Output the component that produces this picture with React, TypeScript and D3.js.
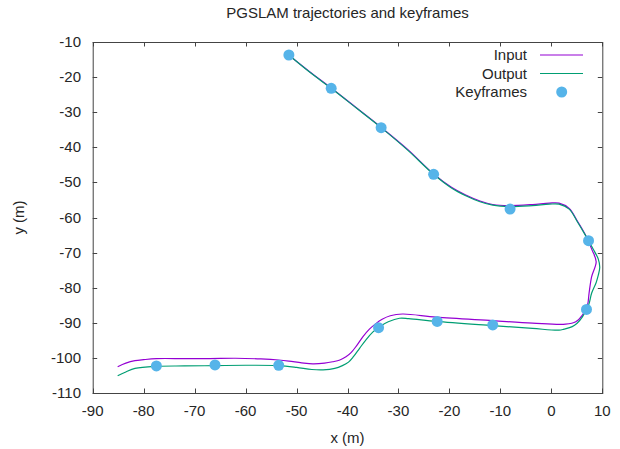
import React, { useEffect, useRef } from 'react';
import * as d3 from 'd3';

// trajectories, in metres
const inputX = [-51.5, -47.5, -43.2, -38.2, -33.4, -28.2, -23.1, -19.6, -16.8, -14.0, -11.5, -8.3, -3.7, -0.4, 1.5, 3.5, 5.1, 6.7, 8.0, 8.8, 7.9, 7.4, 7.1, 6.1, 4.8, 2.8, -3.7, -11.5, -22.6, -29.2, -31.6, -33.2, -34.5, -35.7, -37.0, -38.2, -39.3, -40.3, -41.5, -42.9, -44.5, -46.8, -49.0, -51.5, -53.5, -57.0, -62.0, -67.0, -72.0, -77.5, -80.0, -81.7, -83.5, -85.1];
const inputY = [-13.8, -18.4, -23.1, -28.8, -34.3, -40.6, -47.6, -51.4, -53.6, -55.3, -56.3, -56.6, -56.3, -55.9, -55.9, -57.4, -61.0, -65.0, -69.3, -72.6, -76.9, -81.6, -84.9, -87.8, -89.7, -90.4, -90.1, -89.4, -88.4, -87.5, -88.0, -89.0, -90.3, -91.8, -94.0, -96.5, -98.5, -99.7, -100.6, -101.1, -101.5, -101.7, -101.4, -100.9, -100.6, -100.3, -100.1, -100.2, -100.2, -100.2, -100.5, -100.8, -101.5, -102.5];

const outputX = [-51.5, -47.5, -43.2, -38.2, -33.4, -28.2, -23.1, -19.6, -16.8, -14.0, -11.5, -8.3, -3.7, -0.4, 1.5, 3.5, 5.1, 6.7, 8.2, 9.2, 9.5, 9.2, 8.8, 7.9, 7.3, 6.1, 5.0, 4.1, 2.5, 1.5, -3.7, -11.5, -22.6, -28.0, -29.8, -32.0, -33.7, -35.0, -36.3, -37.6, -38.8, -39.8, -41.0, -42.5, -44.8, -47.0, -50.0, -53.5, -60.0, -66.0, -72.0, -77.5, -81.7, -83.5, -85.1];
const outputY = [-13.7, -18.5, -23.2, -28.9, -34.4, -40.8, -47.7, -51.6, -53.8, -55.5, -56.5, -56.9, -56.6, -56.2, -56.2, -57.6, -61.2, -65.1, -69.0, -71.8, -74.2, -76.5, -78.5, -81.6, -85.0, -88.3, -90.2, -91.1, -91.8, -92.1, -91.6, -90.8, -89.6, -88.8, -88.7, -89.7, -91.1, -92.6, -94.7, -97.2, -99.6, -101.2, -102.2, -103.0, -103.4, -103.3, -102.7, -102.2, -102.1, -102.2, -102.3, -102.4, -103.0, -104.0, -105.1];

const keyX = [-51.5, -43.2, -33.4, -23.1, -8.1, 7.3, 6.9, -11.5, -22.4, -33.9, -53.5, -66.0, -77.5];
const keyY = [-13.7, -23.2, -34.4, -47.7, -57.6, -66.6, -86.2, -90.6, -89.6, -91.4, -102.1, -102.0, -102.3];

const xTicks = [-90, -80, -70, -60, -50, -40, -30, -20, -10, 0, 10];
const yTicks = [-10, -20, -30, -40, -50, -60, -70, -80, -90, -100, -110];

const seriesNames = ['Input', 'Output', 'Keyframes'];
const colors = ['#9400d3', '#009e73', '#56b4e9'];

const W = 620;
const H = 449;
const font = '"Liberation Sans", Arial, sans-serif';
const textColor = '#262626';

const App = () => {
  const svgRef = useRef<SVGSVGElement>(null);

  useEffect(() => {
    const svg = d3.select(svgRef.current);
    svg.selectAll('*').remove();

    const x = d3.scaleLinear().domain([-90, 10]).range([92.7, 602.3]);
    const y = d3.scaleLinear().domain([-10, -110]).range([42, 393]);
    const [x0, x1] = x.range();
    const [y0, y1] = y.range();

    svg.append('text')
      .attr('x', (x0 + x1) / 2)
      .attr('y', 18)
      .attr('text-anchor', 'middle')
      .style('font-family', font)
      .style('font-size', '15px')
      .style('fill', textColor)
      .text('PGSLAM trajectories and keyframes');

    const tickLen = 4.5;
    const grid = svg.append('g').attr('stroke', '#444').attr('stroke-width', 1);
    xTicks.forEach(t => {
      const px = Math.round(x(t)) + 0.5;
      grid.append('line').attr('x1', px).attr('x2', px).attr('y1', y1).attr('y2', y1 - tickLen);
      grid.append('line').attr('x1', px).attr('x2', px).attr('y1', y0).attr('y2', y0 + tickLen);
    });
    yTicks.forEach(t => {
      const py = Math.round(y(t)) + 0.5;
      grid.append('line').attr('x1', x0).attr('x2', x0 + tickLen).attr('y1', py).attr('y2', py);
      grid.append('line').attr('x1', x1).attr('x2', x1 - tickLen).attr('y1', py).attr('y2', py);
    });

    svg.append('g')
      .selectAll('text')
      .data(xTicks)
      .join('text')
      .attr('x', d => x(d))
      .attr('y', 416)
      .attr('text-anchor', 'middle')
      .style('font-family', font)
      .style('font-size', '15px')
      .style('fill', textColor)
      .text(d => d);

    svg.append('g')
      .selectAll('text')
      .data(yTicks)
      .join('text')
      .attr('x', 81)
      .attr('y', d => y(d) + 5)
      .attr('text-anchor', 'end')
      .style('font-family', font)
      .style('font-size', '15px')
      .style('fill', textColor)
      .text(d => d);

    svg.append('text')
      .attr('x', (x0 + x1) / 2)
      .attr('y', 443)
      .attr('text-anchor', 'middle')
      .style('font-family', font)
      .style('font-size', '15px')
      .style('fill', textColor)
      .text('x (m)');

    svg.append('text')
      .attr('transform', `translate(24, ${(y0 + y1) / 2}) rotate(-90)`)
      .attr('text-anchor', 'middle')
      .style('font-family', font)
      .style('font-size', '15px')
      .style('fill', textColor)
      .text('y (m)');

    const line = d3.line<number[]>()
      .x(p => x(p[0]))
      .y(p => y(p[1]))
      .curve(d3.curveCatmullRom.alpha(0.5));

    const inputPts = inputX.map((v, i) => [v, inputY[i]]);
    const outputPts = outputX.map((v, i) => [v, outputY[i]]);

    svg.append('path')
      .datum(inputPts)
      .attr('d', line)
      .attr('fill', 'none')
      .attr('stroke', colors[0])
      .attr('stroke-width', 1.2);

    svg.append('path')
      .datum(outputPts)
      .attr('d', line)
      .attr('fill', 'none')
      .attr('stroke', colors[1])
      .attr('stroke-width', 1.2);

    svg.append('g')
      .selectAll('circle')
      .data(keyX.map((v, i) => [v, keyY[i]]))
      .join('circle')
      .attr('cx', d => x(d[0]))
      .attr('cy', d => y(d[1]))
      .attr('r', 5.5)
      .attr('fill', colors[2]);

    // legend, top right
    const legend = svg.append('g');
    const rowY = [55, 73.5, 92];
    seriesNames.forEach((name, i) => {
      legend.append('text')
        .attr('x', 527)
        .attr('y', rowY[i] + 5)
        .attr('text-anchor', 'end')
        .style('font-family', font)
        .style('font-size', '15px')
        .style('fill', textColor)
        .text(name);
      if (i < 2) {
        legend.append('line')
          .attr('x1', 540).attr('x2', 583)
          .attr('y1', rowY[i]).attr('y2', rowY[i])
          .attr('stroke', colors[i])
          .attr('stroke-width', 1.2);
      } else {
        legend.append('circle')
          .attr('cx', 561.7)
          .attr('cy', rowY[i])
          .attr('r', 5.5)
          .attr('fill', colors[i]);
      }
    });

    svg.append('rect')
      .attr('x', x0 + 0.5)
      .attr('y', y0 + 0.5)
      .attr('width', x1 - x0)
      .attr('height', y1 - y0)
      .attr('fill', 'none')
      .attr('stroke', '#444')
      .attr('stroke-width', 1);
  }, []);

  return (
    <svg
      ref={svgRef}
      width={W}
      height={H}
      style={{ position: 'absolute', left: 0, top: 0, background: '#fff' }}
    />
  );
};

export default App;
